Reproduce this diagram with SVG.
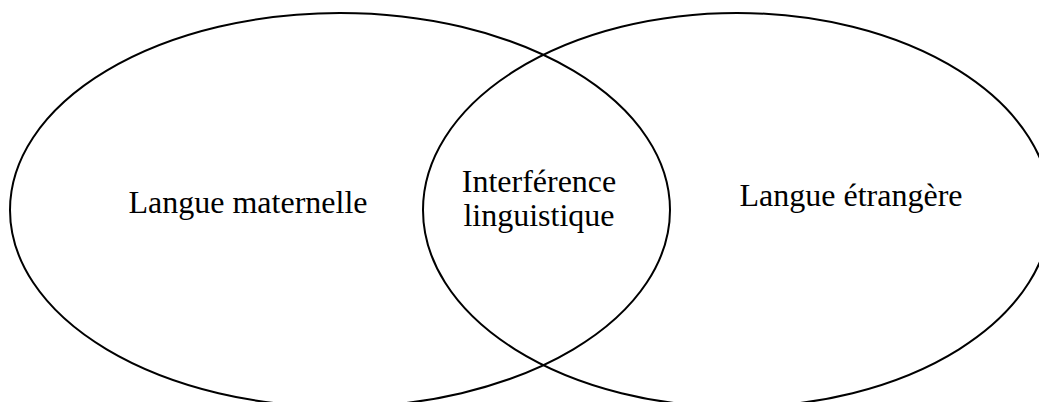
<svg xmlns="http://www.w3.org/2000/svg" width="1039" height="402" viewBox="0 0 1039 402">
<style>
.set{fill:none;stroke:#000;stroke-width:2}
.lbl{font-family:"Liberation Serif","Times New Roman",serif;font-size:32px;fill:#000;text-anchor:middle}
</style>
<rect width="1039" height="402" fill="#fff"/>
<g id="connectors"></g>
<g id="langue-maternelle">
<ellipse class="set" cx="340" cy="210" rx="330" ry="197"/>
<text class="lbl" x="248" y="213">Langue maternelle</text>
</g>
<g id="langue-etrangere">
<ellipse class="set" cx="737" cy="210" rx="314" ry="197"/>
<text class="lbl" x="851" y="206">Langue étrangère</text>
</g>
<g id="interference">
<text class="lbl" x="539" y="192">Interférence</text>
<text class="lbl" x="539" y="226">linguistique</text>
</g>
</svg>
